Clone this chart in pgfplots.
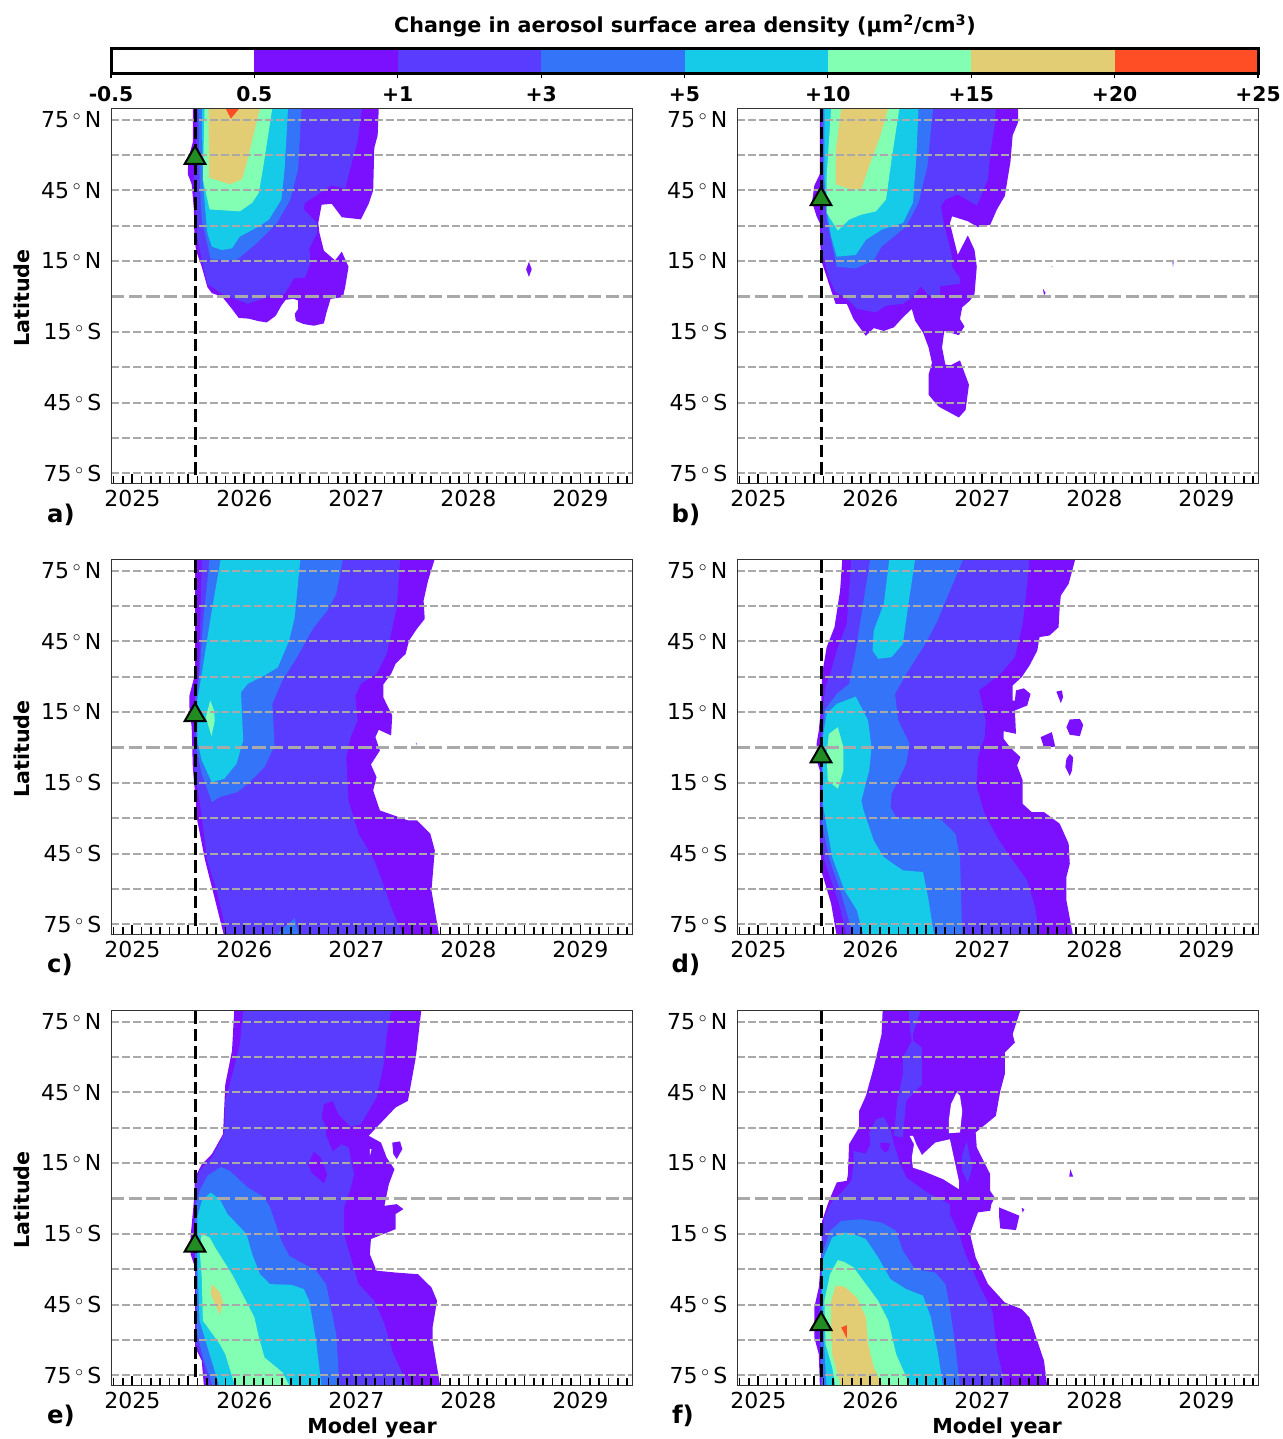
\documentclass[border=0pt]{standalone}
\usepackage{fontspec}
\setmainfont{DejaVu Sans}
\usepackage{pgfplots}
\pgfplotsset{compat=1.18}
\definecolor{c1}{HTML}{7B0FFF}
\definecolor{c2}{HTML}{5A3CFF}
\definecolor{c3}{HTML}{3474F8}
\definecolor{c4}{HTML}{15CBE7}
\definecolor{c5}{HTML}{82FFB3}
\definecolor{c6}{HTML}{E2CD75}
\definecolor{c7}{HTML}{FF4D26}
\definecolor{c8}{HTML}{228B22}
\definecolor{gridg}{HTML}{A9A9A9}
\newcommand{\tn}[4]{\node[#1] at ({#2*0.6pt},{(1439-#3)*0.6pt}) {#4};}
\newcommand{\lv}[2]{\addplot[draw=none,fill=#1,forget plot] coordinates {#2};}
% lat grid, event line and eruption marker, all drawn after the fills
\newcommand{\overlay}[1]{%
  \pgfplotsinvokeforeach{75,60,45,30,15,-15,-30,-45,-60,-75}{%
    \addplot[gridg,line width=1.3pt,dash pattern=on 4.6pt off 2pt,forget plot] coordinates {(-0.19,##1) (4.46,##1)};}
  \addplot[gridg,line width=2pt,dash pattern=on 8pt off 2.6pt,forget plot] coordinates {(-0.19,0) (4.46,0)};
  \addplot[black,line width=1.8pt,dash pattern=on 7.6pt off 3pt,forget plot] coordinates {(0.56,79.5) (0.56,-76.5)};
  \addplot[only marks,mark=triangle*,mark size=7.2pt,mark options={fill=c8,draw=black,line width=1.2pt,yshift=-1.8pt},forget plot] coordinates {(0.56,#1)};
}
\pgfplotsset{panel/.style={
  scale only axis,width=312.6pt,height=225pt,anchor=south west,
  xmin=-0.19,xmax=4.46,ymin=-79.5,ymax=79.5,
  axis on top,
  axis line style={line width=0.6pt,black!80},
  xtick={0,0.5,1,1.5,2,2.5,3,3.5,4},
  xticklabels={2025,{},2026,{},2027,{},2028,{},2029},
  minor xtick={-0.16667,-0.08333,0.08333,0.16667,0.25,0.33333,0.41667,0.58333,0.66667,0.75,0.83333,0.91667,
   1.08333,1.16667,1.25,1.33333,1.41667,1.58333,1.66667,1.75,1.83333,1.91667,
   2.08333,2.16667,2.25,2.33333,2.41667,2.58333,2.66667,2.75,2.83333,2.91667,
   3.08333,3.16667,3.25,3.33333,3.41667,3.58333,3.66667,3.75,3.83333,3.91667,
   4.08333,4.16667,4.25,4.33333,4.41667},
  ytick={75,45,15,-15,-45,-75},
  yticklabels={75\,$^\circ$\,N,45\,$^\circ$\,N,15\,$^\circ$\,N,15\,$^\circ$\,S,45\,$^\circ$\,S,75\,$^\circ$\,S},
  xtick pos=bottom,ytick pos=left,tick align=inside,
  major tick length=6.2pt,minor tick length=4.6pt,
  xtick style={black,line width=1.1pt},
  minor x tick style={black,line width=1pt},
  ytick style={draw=none},
  tick label style={font=\fontsize{13.2}{15}\selectfont},
  yticklabel style={xshift=-2.2pt},
  xticklabel style={yshift=0pt},
}}
\begin{document}
\begin{tikzpicture}
\path[use as bounding box] (0,0) rectangle (769.8pt,863.4pt);
%% colour bar
\begin{axis}[scale only axis,width=688.2pt,height=15pt,at={(66.6pt,819pt)},anchor=south west,
  xmin=0,xmax=8,ymin=0,ymax=1,axis on top,
  axis line style={line width=1.8pt,black},
  xtick={0,1,2,3,4,5,6,7,8},
  xticklabels={-0.5,0.5,+1,+3,+5,+10,+15,+20,+25},
  ytick=\empty,xtick pos=bottom,tick align=outside,major tick length=2.5pt,
  xtick style={black,line width=0.7pt},
  xticklabel style={yshift=-1.5pt},
  tick label style={font=\fontsize{12.2}{14}\selectfont\bfseries}]
\lv{white}{(0,0)(1,0)(1,1)(0,1)}
\lv{c1}{(1,0)(2,0)(2,1)(1,1)}
\lv{c2}{(2,0)(3,0)(3,1)(2,1)}
\lv{c3}{(3,0)(4,0)(4,1)(3,1)}
\lv{c4}{(4,0)(5,0)(5,1)(4,1)}
\lv{c5}{(5,0)(6,0)(6,1)(5,1)}
\lv{c6}{(6,0)(7,0)(7,1)(6,1)}
\lv{c7}{(7,0)(8,0)(8,1)(7,1)}
\end{axis}
%% a
\begin{axis}[panel,at={(66.6pt,573pt)}]
\lv{c1}{(.54,80)(.54,65.4)(.50,58.3)(.495,51.9)(.53,47.6)(.55,36.9)(.554,25.4)(.568,19.7)(.62,12.6)(.67,4)(.71,1.4)(.80,0)(.89,-5.3)(.95,-9.1)(1.04,-9.4)(1.13,-10.5)(1.20,-11)(1.28,-8.2)(1.33,-3.9)(1.37,-1.4)(1.44,-1)(1.48,-1.7)(1.48,-5.3)(1.45,-7.4)(1.46,-10.3)(1.53,-11.7)(1.62,-12.4)(1.71,-11.4)(1.73,-7.4)(1.77,-1)(1.88,-0.3)(1.90,4)(1.93,12.6)(1.87,19)(1.81,15.3)(1.71,19.4)(1.67,27)(1.66,31.2)(1.69,38.9)(1.78,39.3)(1.87,33.6)(2.04,32.7)(2.11,39.3)(2.15,45)(2.16,63)(2.19,68.3)(2.20,80)}
\lv{c1}{(3.54,14.7)(3.565,11.5)(3.54,8.3)(3.515,11.5)}
\lv{c2}{(.57,80)(.57,65)(.55,52)(.58,25)(.62,15.4)(.67,5.4)(.80,1.1)(1.03,-3.1)(1.22,0)(1.36,1.1)(1.44,7.6)(1.54,8)(1.59,14)(1.58,20.4)(1.65,26.9)(1.65,31.1)(1.53,36.9)(1.54,39.7)(1.78,47.1)(1.90,45.7)(1.96,56.9)(2.01,65.4)(2.05,80)}
\lv{c3}{(.59,80)(.60,51)(.62,32.6)(.70,15.7)(.93,15.4)(1.11,22.6)(1.29,31)(1.41,41)(1.48,54)(1.51,80)}
\lv{c4}{(.62,80)(.63,48.3)(.67,26.9)(.71,21.1)(.80,19.7)(.89,20.4)(.96,25.4)(1.13,29.7)(1.22,32.6)(1.33,41)(1.36,54)(1.39,80)}
\lv{c5}{(.645,80)(.63,49.7)(.69,36.9)(.96,36.1)(1.07,39.7)(1.13,44)(1.18,58.3)(1.25,80)}
\lv{c6}{(.68,80)(.685,50.4)(.87,47.6)(.98,49.7)(1.03,58.3)(1.14,80)}
\lv{c7}{(.83,80)(.88,75.4)(.96,80)}
\overlay{60}
\end{axis}
%% b
\begin{axis}[panel,at={(442.2pt,573pt)}]
\lv{c1}{(.55,80)(.55,52)(.50,47)(.48,40)(.52,34)(.55,31)(.555,21)(.57,14)(.64,4)(.69,-3.1)(.79,-3.1)(.85,-9.6)(.96,-16.7)(1.03,-13.4)(1.12,-14.6)(1.21,-13.1)(1.29,-8.9)(1.37,-5.3)(1.40,-10.3)(1.47,-15.3)(1.52,-21.7)(1.55,-28.1)(1.52,-33.1)(1.52,-41.7)(1.61,-46.7)(1.79,-51.3)(1.85,-48.1)(1.88,-37.4)(1.80,-27.1)(1.72,-29.1)(1.67,-28.9)(1.64,-21.7)(1.66,-14.6)(1.79,-16.4)(1.84,-12.7)(1.80,-9.6)(1.82,-4.6)(1.89,-1.7)(1.93,1.1)(1.95,12.6)(1.93,19.7)(1.87,25.9)(1.78,17.6)(1.71,31.1)(1.73,34)(1.87,31.9)(1.96,29.4)(2.07,30.4)(2.13,36.9)(2.20,42.6)(2.25,56.9)(2.27,68.3)(2.32,74)(2.32,80)}
\lv{c1}{(2.54,3.3)(2.565,1.5)(2.55,0.6)}
\lv{c1!60}{(3.695,14.7)(3.71,14.7)(3.70,12.3)}
\lv{c1!40}{(2.615,12.9)(2.63,12.9)(2.62,12.2)}
\lv{c2}{(.56,80)(.56,50)(.57,18.3)(.64,6.9)(.69,1.9)(.81,-1.7)(.88,-5.3)(1.05,-6.7)(1.14,-3.9)(1.29,-3.1)(1.38,-.3)(1.45,4.3)(1.52,.4)(1.62,-.3)(1.62,4.3)(1.80,5.4)(1.80,7.6)(1.73,12.6)(1.73,16.9)(1.67,28.3)(1.65,32.6)(1.63,38.3)(1.67,41.1)(1.78,43.3)(1.95,38.6)(2.05,49.7)(2.07,61.1)(2.11,72.6)(2.12,80)}
\lv{c3}{(.57,80)(.58,50)(.61,32.6)(.70,12.6)(.87,11.9)(1.03,15.4)(1.10,21.1)(1.32,29.7)(1.43,39.7)(1.51,55.4)(1.56,80)}
\lv{c4}{(.59,80)(.59,49.7)(.62,34)(.65,25.4)(.70,16.9)(.87,17.6)(.96,24)(1.10,28.3)(1.29,31.1)(1.38,39.7)(1.41,58.3)(1.43,80)}
\lv{c5}{(.65,80)(.61,51)(.61,35.4)(.71,28)(.81,32.6)(.92,34.7)(1.05,36.1)(1.14,41.1)(1.19,58.3)(1.26,80)}
\lv{c6}{(.74,80)(.69,61)(.69,47.6)(.83,45.4)(.92,45.7)(.99,55.4)(1.09,68.3)(1.16,80)}
\overlay{42.5}
\end{axis}
%% c
\begin{axis}[panel,at={(66.6pt,302.4pt)}]
\lv{c1}{(.56,80)(.56,31.2)(.51,22)(.51,17.1)(.53,8.6)(.54,-8.3)(.58,-30.9)(.65,-47.9)(.74,-64.8)(.82,-80)(2.74,-80)(2.67,-60.6)(2.70,-43.6)(2.66,-36.6)(2.54,-30.9)(2.46,-30.9)(2.21,-26.7)(2.15,-18.2)(2.18,-12.6)(2.13,-7.2)(2.21,-1.3)(2.17,4.4)(2.20,7.5)(2.31,5.1)(2.32,13.6)(2.24,21.3)(2.24,26.7)(2.31,31.2)(2.35,35.5)(2.44,39.7)(2.47,45.3)(2.54,50.3)(2.61,54.5)(2.60,62.3)(2.64,70.8)(2.70,80)}
\lv{c1!70}{(2.53,2)(2.54,2)(2.535,.8)}
\lv{c2}{(.62,80)(.60,40)(.59,31)(.56,22)(.55,-8)(.60,-22.5)(.67,-47.9)(.76,-62)(.85,-80)(2.42,-80)(2.31,-67.7)(2.25,-59.2)(2.16,-47.9)(2.02,-36.6)(1.93,-22.5)(1.91,-4.1)(1.95,4.4)(2.01,11.4)(1.99,22)(2.04,27)(2.18,31.2)(2.27,39.7)(2.36,59.5)(2.39,80)}
\lv{c3}{(.69,80)(.63,52.4)(.60,31.2)(.57,21.3)(.57,0)(.62,-11.2)(.71,-23.2)(.78,-21)(.94,-18.9)(1.03,-15.4)(1.18,-8.3)(1.27,.8)(1.25,18.5)(1.34,28.4)(1.47,38.3)(1.62,51)(1.74,58)(1.82,65.1)(1.88,80)}
\lv{c3}{(1.27,-80)(1.45,-72.3)(1.49,-80)}
\lv{c4}{(.79,80)(.74,66.5)(.69,52.4)(.62,31.2)(.58,19.9)(.58,3)(.62,-5.5)(.71,-14.7)(.82,-13.3)(.93,-6.9)(.99,3)(.97,23.4)(1.03,27)(1.18,30.5)(1.30,34)(1.40,45.3)(1.45,55.2)(1.50,80)}
\lv{c5}{(.696,19.9)(.73,15.7)(.736,11.4)(.707,4.8)(.656,12.9)}
\overlay{15}
\end{axis}
%% d
\begin{axis}[panel,at={(442.2pt,302.4pt)}]
\lv{c1}{(.75,80)(.73,66.5)(.68,51)(.61,42.5)(.57,31.2)(.56,17.1)(.54,7.2)(.52,1.6)(.53,-6.9)(.55,-9.7)(.55,-39.4)(.57,-53.5)(.65,-66.2)(.70,-80)(2.81,-80)(2.75,-64.8)(2.75,-54.9)(2.78,-49.3)(2.77,-40.8)(2.69,-32.3)(2.55,-27.4)(2.44,-27.4)(2.36,-23.9)(2.36,-14)(2.31,-7.6)(2.34,-4.1)(2.25,-.1)(2.19,3.7)(2.19,6.9)(2.30,5.8)(2.29,15.7)(2.40,17.8)(2.43,22.7)(2.37,25.1)(2.30,24.2)(2.29,19.9)(2.27,19.9)(2.27,26.3)(2.35,29.8)(2.42,34.7)(2.49,41.1)(2.51,46.8)(2.60,47.5)(2.68,51)(2.69,59.5)(2.70,64.4)(2.77,69.4)(2.83,80)}
\lv{c1}{(2.66,23.7)(2.71,24.2)(2.72,21.3)(2.70,18.8)}
\lv{c1}{(2.78,11.9)(2.87,12.1)(2.90,9.6)(2.87,4.8)(2.78,5.4)(2.75,8.6)}
\lv{c1}{(2.52,4.4)(2.62,6.5)(2.65,.4)(2.55,-.1)}
\lv{c1}{(2.78,-2.7)(2.81,-4.1)(2.80,-9.7)(2.78,-12.1)(2.74,-8.3)(2.75,-4.8)}
\lv{c2}{(.83,80)(.79,52.4)(.70,41.1)(.65,32.6)(.60,25.6)(.57,14.3)(.555,3)(.555,-36.6)(.59,-47.9)(.72,-66.2)(.79,-80)(2.51,-80)(2.47,-67.7)(2.40,-56.4)(2.25,-46.5)(2.13,-38)(2.02,-28.1)(1.95,-16.8)(1.96,-4.1)(2.02,4.4)(2.03,11.4)(1.97,24.2)(2.16,31.2)(2.29,38.3)(2.36,52.4)(2.40,69.4)(2.42,80)}
\lv{c3}{(1.00,80)(.94,62.3)(.87,41.1)(.81,27)(.70,22.7)(.59,15.7)(.57,3)(.57,-32.3)(.63,-46.5)(.74,-62)(.85,-80)(1.82,-80)(1.80,-46.5)(1.76,-36.6)(1.63,-30.6)(1.43,-29.5)(1.23,-29.5)(1.18,-25.3)(1.19,-19.6)(1.32,-6.9)(1.35,1.6)(1.25,11.4)(1.22,22.7)(1.32,31.2)(1.49,43.9)(1.60,53.8)(1.71,66.5)(1.83,80)}
\lv{c4}{(1.17,80)(1.12,60.9)(1.03,49.6)(1.02,41.1)(1.07,37.6)(1.19,38.3)(1.29,43.9)(1.34,60.9)(1.40,80)}
\lv{c4}{(.87,21.6)(.70,18.5)(.61,14.3)(.57,3)(.58,-25.3)(.66,-46.5)(.77,-60.6)(.88,-69)(.94,-80)(1.57,-80)(1.52,-64.8)(1.47,-52.8)(1.29,-52.1)(1.12,-46.5)(1.03,-39.4)(.94,-26.7)(.92,-22.5)(.99,-9.7)(1.01,.1)(.98,11.4)}
\lv{c5}{(.71,8.6)(.63,5.8)(.61,-2.7)(.62,-14)(.71,-17.5)(.76,-9.7)(.76,.1)}
\overlay{-2.5}
\end{axis}
%% e
\begin{axis}[panel,at={(66.6pt,31.8pt)}]
\lv{c1}{(.91,80)(.89,62.6)(.83,48.4)(.81,27.3)(.71,18.8)(.62,14.5)(.56,8.9)(.55,-1)(.52,-16.5)(.52,-23.6)(.56,-29.2)(.56,-63.1)(.62,-68.8)(.64,-80)(2.75,-80)(2.68,-60.3)(2.68,-54.7)(2.72,-43.4)(2.67,-37.7)(2.55,-32.1)(2.35,-31.4)(2.18,-30.6)(2.12,-23.6)(2.13,-17.2)(2.35,-13)(2.35,-6.6)(2.42,-4.5)(2.36,-2.4)(2.25,-3.1)(2.29,6.1)(2.34,12.4)(2.27,17.4)(2.22,23.7)(2.11,26.6)(2.25,33.6)(2.35,38.6)(2.46,41.4)(2.53,59.7)(2.58,80)}
\lv{c1}{(2.32,23.7)(2.39,24.2)(2.41,20.9)(2.36,16.7)(2.33,18.8)}
\lv{white}{(2.12,20.9)(2.135,20.9)(2.12,18)}
\lv{c2}{(.99,80)(.96,65.4)(.93,59.7)(.87,48.4)(.83,41.4)(.82,27.3)(.71,17.4)(.60,11.7)(.56,4.7)(.55,-15.1)(.57,-29.2)(.57,-61.7)(.63,-68.8)(.67,-80)(2.47,-80)(2.33,-66)(2.25,-53.2)(2.16,-43.4)(2.02,-36.3)(1.95,-25)(1.89,-15.1)(1.89,-3.8)(1.95,4.7)(1.98,10.3)(1.93,21.6)(1.87,23)(1.79,19.9)(1.73,26.6)(1.73,30.1)(1.69,34.3)(1.71,40)(1.79,41.4)(1.84,35.7)(1.95,30.4)(2.04,31.5)(2.18,42.8)(2.25,58.3)(2.27,69.6)(2.31,80)}
\lv{c1}{(1.62,19.9)(1.57,14.5)(1.60,11)(1.71,6.5)(1.74,10.3)(1.68,17.4)}
\lv{c3}{(.79,13.4)(.67,9.6)(.60,3.2)(.56,-3.8)(.56,-23.6)(.58,-57.5)(.63,-67.4)(.72,-80)(1.85,-80)(1.82,-57.5)(1.73,-36.3)(1.64,-30.6)(1.40,-24.3)(1.33,-17.9)(1.23,-3.8)(1.18,.4)(1.03,4.7)(.87,11.7)}
\lv{c4}{(.70,2.5)(.62,-1)(.58,-8)(.58,-26.4)(.60,-51.8)(.69,-66)(.78,-80)(1.69,-80)(1.64,-60.3)(1.58,-43.4)(1.53,-38.4)(1.42,-36.6)(1.23,-36.3)(1.14,-32.1)(1.07,-23.6)(1.02,-15.1)(.85,-6.6)(.78,-.3)}
\lv{c5}{(.62,-15.1)(.60,-20.8)(.62,-33.5)(.63,-51.8)(.78,-61.7)(.83,-66)(.92,-80)(1.41,-80)(1.34,-73.7)(1.18,-67.4)(1.13,-58.9)(1.09,-50.4)(.89,-32.1)(.74,-20.8)(.69,-16.5)}
\lv{c6}{(.71,-36.3)(.70,-40.5)(.78,-49.3)(.81,-44.1)(.78,-39.8)}
\overlay{-18.7}
\end{axis}
%% f
\begin{axis}[panel,at={(442.2pt,31.8pt)}]
\lv{c1}{(1.11,80)(1.10,69.6)(1.03,55.5)(.96,43.5)(.90,37.1)(.90,30.1)(.81,23)(.80,10.3)(.79,7.5)(.70,6.8)(.63,-1)(.57,-9.5)(.56,-26.4)(.54,-37.7)(.50,-46.2)(.50,-58.9)(.54,-66)(.55,-80)(2.58,-80)(2.55,-68.8)(2.47,-57.5)(2.42,-50.4)(2.35,-46.9)(2.20,-44.1)(2.05,-36.3)(1.94,-25)(1.89,-15.1)(1.91,-12.3)(1.96,-5.9)(2.07,-5.2)(2.08,-2.4)(2.11,.4)(2.07,3.2)(2.07,10.3)(1.95,21.6)(1.94,28)(2.12,35)(2.16,45.6)(2.20,52.7)(2.20,61.9)(2.29,66.1)(2.27,69.6)(2.34,80)}
\lv{white}{(1.35,26.6)(1.39,23)(1.37,17.4)(1.38,13.1)(1.47,11.7)(1.65,8.2)(1.79,4)(1.79,7.5)(1.71,25.1)(1.58,23.7)(1.46,18.4)(1.41,23)(1.38,26.6)}
\lv{white}{(1.77,44.9)(1.80,43.5)(1.82,37.1)(1.80,28)(1.70,27.7)(1.70,32.9)(1.72,40)}
\lv{c1}{(2.15,-3.8)(2.33,-7.3)(2.30,-13.4)(2.16,-12.7)(2.15,-8)}
\lv{c1}{(2.35,-4)(2.375,-4.5)(2.36,-6)}
\lv{c1}{(2.785,12.4)(2.81,9.3)(2.775,9.3)}
\lv{c2}{(1.34,80)(1.45,80)(1.38,69.6)(1.38,66.8)(1.46,64)(1.46,48.4)(1.32,41.4)(1.30,31.5)(1.29,25.8)(1.21,26.6)(1.24,41.4)(1.29,52.7)(1.29,59.7)(1.37,66.8)(1.36,69.6)}
\lv{c2}{(.85,20.2)(.96,19)(1.00,23)(.99,28)(1.05,33.6)(1.12,34.6)(1.18,29.4)(1.21,23)(1.27,14.5)(1.32,8.9)(1.51,2.5)(1.71,-2.4)(1.71,-6.6)(1.78,-13.7)(1.85,-23.6)(1.98,-37.7)(2.09,-47.6)(2.13,-64.5)(2.18,-74.4)(2.20,-80)(.56,-80)(.55,-66)(.54,-50.4)(.555,-37.7)(.56,-22.2)(.59,-8)(.66,-1)(.74,2.5)(.83,7.5)(.85,14.5)}
\lv{c2}{(1.86,24.4)(1.89,17.4)(1.91,13.1)(1.87,6.8)(1.82,11.7)(1.82,18.1)}
\lv{c1}{(1.09,23.7)(1.18,23.3)(1.16,20.2)(1.13,19.5)(1.09,21.6)}
\lv{c3}{(.57,-23.6)(.64,-13.7)(.74,-9.5)(.92,-8.8)(1.10,-10.2)(1.23,-13.7)(1.29,-22.2)(1.40,-30)(1.58,-31.4)(1.67,-36.3)(1.71,-46.2)(1.76,-63.1)(1.80,-80)(.57,-80)(.555,-66)(.56,-43.4)}
\lv{c4}{(.77,-14.4)(.66,-16.5)(.57,-26.4)(.57,-43.4)(.59,-64.5)(.61,-80)(1.65,-80)(1.60,-64.5)(1.54,-50.4)(1.47,-41.2)(1.32,-38.4)(1.18,-34.2)(1.07,-25)(.96,-17.2)(.85,-15.1)}
\lv{c5}{(.71,-26.1)(.64,-32.1)(.59,-43.4)(.60,-61.7)(.66,-71.6)(.69,-80)(1.36,-80)(1.23,-66)(1.16,-51.8)(1.07,-43.4)(.96,-36.3)(.85,-29.2)(.77,-27)}
\lv{c6}{(.69,-37)(.65,-43.4)(.65,-57.5)(.66,-66)(.74,-80)(1.12,-80)(1.03,-71.6)(.98,-61.7)(.96,-50.4)(.88,-42)(.77,-37.4)}
\lv{c7}{(.79,-53.7)(.74,-54.7)(.79,-59.3)}
\overlay{-52}
\end{axis}
%% text
\tikzset{lab/.style={font=\fontsize{12.4}{14}\selectfont\bfseries,inner sep=0pt},pl/.style={font=\fontsize{14.6}{16}\selectfont\bfseries,inner sep=0pt}}
\tn{lab}{685}{26}{Change in aerosol surface area density (µm\textsuperscript{2}/cm\textsuperscript{3})}
\tn{lab,rotate=90}{22}{298}{Latitude}
\tn{lab,rotate=90}{22}{749}{Latitude}
\tn{lab,rotate=90}{22}{1200}{Latitude}
\tn{lab}{372}{1428}{Model year}
\tn{lab}{997}{1428}{Model year}
\tn{pl}{61}{515}{a)}
\tn{pl}{686}{515}{b)}
\tn{pl}{60}{965}{c)}
\tn{pl}{686}{965}{d)}
\tn{pl}{61}{1416}{e)}
\tn{pl}{683}{1416}{f)}
\end{tikzpicture}
\end{document}
